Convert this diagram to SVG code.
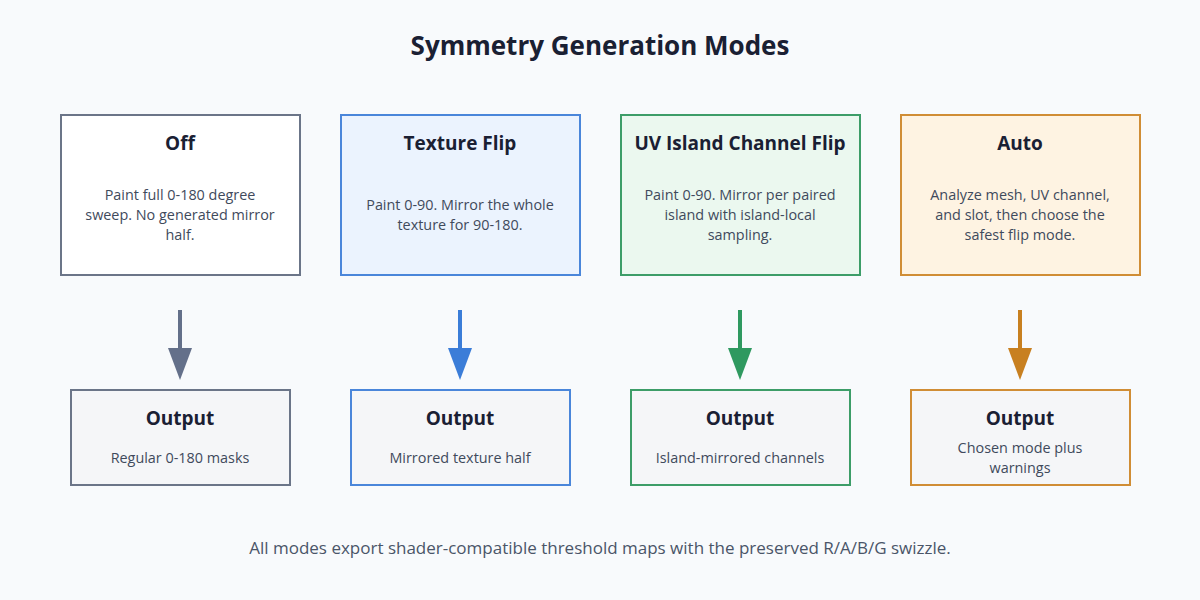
<svg xmlns="http://www.w3.org/2000/svg" width="1200" height="600" viewBox="0 0 1200 600">
<style>
text{font-family:"Open Sans","Noto Sans","DejaVu Sans",sans-serif;text-anchor:middle}
.title{font-size:26px;font-weight:bold;fill:#1a2033}
.h{font-size:19px;font-weight:bold;fill:#1a2033}
.b{font-size:14.4px;fill:#3f4a5c}
.foot{font-size:17px;fill:#4a5568}
.box{stroke-width:2}
.out{fill:#f5f6f8;stroke-width:2}
</style>
<rect width="1200" height="600" fill="#f8fafc"/>
<text class="title" x="600" y="55">Symmetry Generation Modes</text>
<g id="connectors">
<line x1="180" y1="310" x2="180" y2="352" stroke="#64708a" stroke-width="4"/>
<polygon points="168,348 192,348 180,380" fill="#64708a"/>
<line x1="460" y1="310" x2="460" y2="352" stroke="#3b7dd8" stroke-width="4"/>
<polygon points="448,348 472,348 460,380" fill="#3b7dd8"/>
<line x1="740" y1="310" x2="740" y2="352" stroke="#2f9960" stroke-width="4"/>
<polygon points="728,348 752,348 740,380" fill="#2f9960"/>
<line x1="1020" y1="310" x2="1020" y2="352" stroke="#c88020" stroke-width="4"/>
<polygon points="1008,348 1032,348 1020,380" fill="#c88020"/>
</g>
<g id="off">
<rect class="box" x="61" y="115" width="239" height="160" fill="#ffffff" stroke="#6b7588"/>
<text class="h" x="180" y="150">Off</text>
<text class="b" x="180" y="200">Paint full 0-180 degree</text>
<text class="b" x="180" y="220">sweep. No generated mirror</text>
<text class="b" x="180" y="240">half.</text>
</g>
<g id="texture-flip">
<rect class="box" x="341" y="115" width="239" height="160" fill="#ebf3fe" stroke="#4a86da"/>
<text class="h" x="460" y="150">Texture Flip</text>
<text class="b" x="460" y="210">Paint 0-90. Mirror the whole</text>
<text class="b" x="460" y="230">texture for 90-180.</text>
</g>
<g id="uv-island">
<rect class="box" x="621" y="115" width="239" height="160" fill="#ebf8ef" stroke="#3d9d68"/>
<text class="h" x="740" y="150">UV Island Channel Flip</text>
<text class="b" x="740" y="200">Paint 0-90. Mirror per paired</text>
<text class="b" x="740" y="220">island with island-local</text>
<text class="b" x="740" y="240">sampling.</text>
</g>
<g id="auto">
<rect class="box" x="901" y="115" width="239" height="160" fill="#fef3e2" stroke="#d08d35"/>
<text class="h" x="1020" y="150">Auto</text>
<text class="b" x="1020" y="200">Analyze mesh, UV channel,</text>
<text class="b" x="1020" y="220">and slot, then choose the</text>
<text class="b" x="1020" y="240">safest flip mode.</text>
</g>
<g id="out-off">
<rect class="out" x="71" y="390" width="219" height="95" stroke="#6b7588"/>
<text class="h" x="180" y="425">Output</text>
<text class="b" x="180" y="463">Regular 0-180 masks</text>
</g>
<g id="out-texture">
<rect class="out" x="351" y="390" width="219" height="95" stroke="#4a86da"/>
<text class="h" x="460" y="425">Output</text>
<text class="b" x="460" y="463">Mirrored texture half</text>
</g>
<g id="out-uv">
<rect class="out" x="631" y="390" width="219" height="95" stroke="#3d9d68"/>
<text class="h" x="740" y="425">Output</text>
<text class="b" x="740" y="463">Island-mirrored channels</text>
</g>
<g id="out-auto">
<rect class="out" x="911" y="390" width="219" height="95" stroke="#d08d35"/>
<text class="h" x="1020" y="425">Output</text>
<text class="b" x="1020" y="453">Chosen mode plus</text>
<text class="b" x="1020" y="473">warnings</text>
</g>
<text class="foot" x="600" y="554">All modes export shader-compatible threshold maps with the preserved R/A/B/G swizzle.</text>
</svg>
